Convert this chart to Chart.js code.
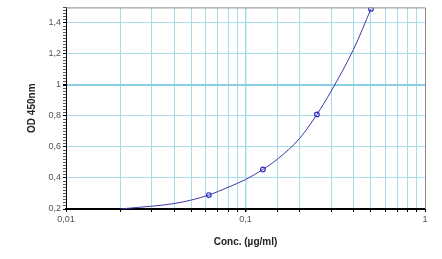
<!DOCTYPE html>
<html>
<head>
<meta charset="utf-8">
<script src="https://cdn.jsdelivr.net/npm/chart.js@4.4.0/dist/chart.umd.min.js"></script>
<style>
  html, body { margin: 0; padding: 0; background: #fff; }
  #wrap { width: 442px; height: 259px; }
</style>
</head>
<body>
<div id="wrap"><canvas id="grafico" width="442" height="259"></canvas></div>
<script>
// pontos medidos (padrões)
const concPontos = [0.0625, 0.125, 0.25, 0.5];
const odPontos = [0.29, 0.455, 0.81, 1.49];

// curva ajustada
const concCurva = [0.02, 0.025, 0.03, 0.04, 0.05, 0.0625, 0.08, 0.1, 0.125, 0.15, 0.2, 0.25, 0.3, 0.4, 0.5];
const odCurva = [0.2, 0.21, 0.218, 0.235, 0.258, 0.29, 0.34, 0.39, 0.455, 0.52, 0.655, 0.81, 0.96, 1.23, 1.49];

const xTicksRotulo = { 0.01: '0,01', 0.1: '0,1', 1: '1' };

const corGrade = '#a8dcea';
const fonte = 'Arial, "Liberation Sans", sans-serif';

const ctx = document.getElementById('grafico').getContext('2d');

// moldura cinza em cima e à direita
const moldura = {
  id: 'moldura',
  afterDraw(chart) {
    const a = chart.chartArea;
    const c = chart.ctx;
    c.save();
    c.strokeStyle = '#8a8a8a';
    c.lineWidth = 1;
    c.beginPath();
    c.moveTo(a.left, a.top + 0.5);
    c.lineTo(a.right + 0.5, a.top + 0.5);
    c.lineTo(a.right + 0.5, a.bottom);
    c.stroke();
    c.restore();
  }
};

const grafico = new Chart(ctx, {
  type: 'scatter',
  data: {
    datasets: [
      {
        label: 'curva',
        data: concCurva.map((x, i) => ({ x: x, y: odCurva[i] })),
        showLine: true,
        borderColor: '#3b3ba6',
        borderWidth: 1,
        pointRadius: 0,
        cubicInterpolationMode: 'monotone'
      },
      {
        label: 'padrões',
        data: concPontos.map((x, i) => ({ x: x, y: odPontos[i] })),
        showLine: false,
        borderColor: '#2b2bc8',
        backgroundColor: '#ffffff',
        borderWidth: 1.2,
        pointRadius: 2.3
      }
    ]
  },
  options: {
    responsive: false,
    animation: false,
    layout: { padding: { left: 26, right: 17, top: 7, bottom: 11 } },
    plugins: { legend: { display: false }, tooltip: { enabled: false } },
    scales: {
      x: {
        type: 'logarithmic',
        min: 0.01,
        max: 1,
        afterFit(s) { s.height = 39; },
        grid: {
          color: (c) => (c.tick && (c.tick.value === 0.01 || c.tick.value === 1)) ? 'rgba(0,0,0,0)' : corGrade,
          lineWidth: (c) => (c.tick && c.tick.value === 0.1) ? 1.5 : 1,
          tickColor: '#000',
          tickLength: 3
        },
        border: { color: '#000', width: 2 },
        ticks: {
          autoSkip: false,
          maxRotation: 0,
          padding: 2,
          color: '#555',
          font: { family: fonte, size: 9 },
          callback: (v) => xTicksRotulo[v] || ''
        },
        title: {
          display: true,
          text: 'Conc. (µg/ml)',
          color: '#222',
          font: { family: fonte, size: 10, weight: 'bold' },
          padding: 0
        }
      },
      y: {
        min: 0.2,
        max: 1.5,
        afterFit(s) { s.width = 40; },
        afterBuildTicks(s) {
          const t = [];
          for (let i = 10; i <= 75; i++) t.push({ value: i / 50 });
          s.ticks = t;
        },
        grid: {
          color: (c) => {
            const v = Math.round(c.tick.value * 100);
            if (v === 20) return 'rgba(0,0,0,0)';
            if (v === 100) return '#8ccfe2';
            return v % 20 === 0 ? corGrade : 'rgba(0,0,0,0)';
          },
          lineWidth: (c) => Math.round(c.tick.value * 100) === 100 ? 2 : 1,
          tickColor: (c) => Math.round(c.tick.value * 100) % 20 === 0 ? '#000' : '#555',
          tickLength: 3
        },
        border: { color: '#000', width: 1 },
        ticks: {
          autoSkip: false,
          padding: 2,
          color: '#555',
          font: { family: fonte, size: 9 },
          callback: (v) => {
            const n = Math.round(v * 100);
            if (n % 20 !== 0) return '';
            return (n / 100).toString().replace('.', ',');
          }
        },
        title: {
          display: true,
          text: 'OD 450nm',
          color: '#222',
          font: { family: fonte, size: 10, weight: 'bold' },
          padding: 0
        }
      }
    }
  },
  plugins: [moldura]
});
</script>
</body>
</html>
